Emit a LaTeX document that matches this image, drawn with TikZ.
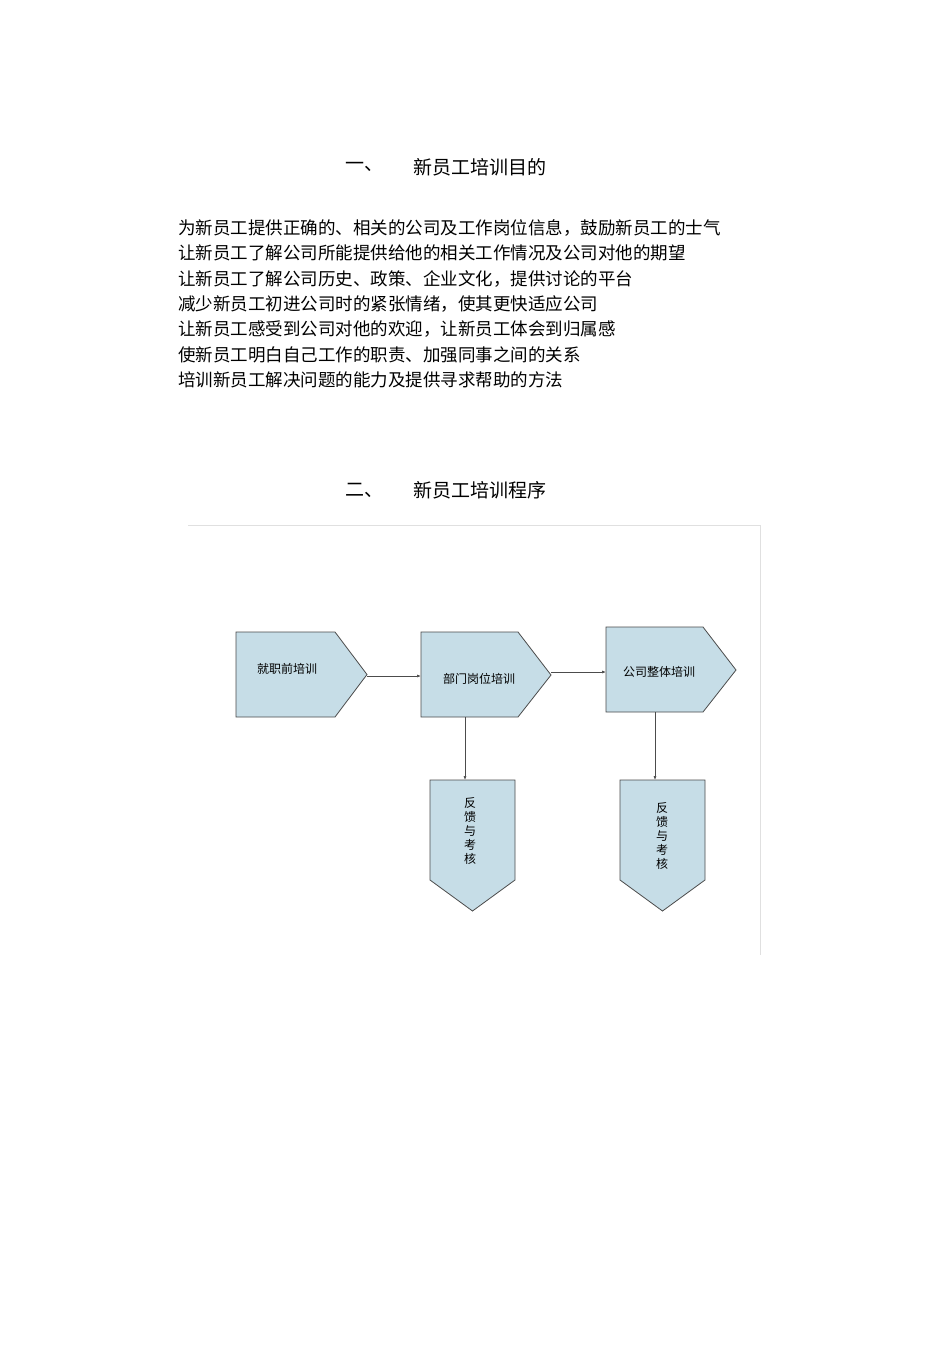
\documentclass[tikz,border=0pt]{standalone}
\usepackage{fontspec}
\newfontfamily\cjk{Noto Sans CJK SC}
\begin{document}
\begin{tikzpicture}[x=1pt,y=-1pt,
  shp/.style={draw=black!70,fill=cyan!20!teal!25!white,line width=0.8pt},
  lbl/.style={font=\cjk\fontsize{12}{14}\selectfont,inner sep=0pt},
  body/.style={font=\cjk\fontsize{17.5}{20}\selectfont,anchor=west,inner sep=0pt},
  head/.style={font=\cjk\fontsize{19}{22}\selectfont,anchor=west,inner sep=0pt},
  arr/.style={draw=black!70,line width=0.7pt,-{Latex[length=4pt,width=3pt]}}]
\usetikzlibrary{arrows.meta}
\useasboundingbox (0,0) rectangle (950,1345);
\fill[white] (0,0) rectangle (950,1345);
\node[head] (h1a) at (345,167) {一、};
\node[head] (h1b) at (413,167) {新员工培训目的};
\foreach \t [count=\i] in {为新员工提供正确的、相关的公司及工作岗位信息，鼓励新员工的士气,
 让新员工了解公司所能提供给他的相关工作情况及公司对他的期望,
 让新员工了解公司历史、政策、企业文化，提供讨论的平台,
 减少新员工初进公司时的紧张情绪，使其更快适应公司,
 让新员工感受到公司对他的欢迎，让新员工体会到归属感,
 使新员工明白自己工作的职责、加强同事之间的关系,
 培训新员工解决问题的能力及提供寻求帮助的方法}
 \node[body] (b\i) at (178,{228+25.3*(\i-1)}) {\t};
\node[head] (h2a) at (345,490) {二、};
\node[head] (h2b) at (413,490) {新员工培训程序};
\draw[black!12,line width=0.8pt] (188,525) -- (760,525) -- (760,955);
% boxes
\draw[shp] (236,632) -- (335,632) -- (367,674.5) -- (335,717) -- (236,717) -- cycle;
\node[lbl] (n1) at (287,669) {就职前培训};
\draw[shp] (421,632) -- (518,632) -- (551,675) -- (518,717) -- (421,717) -- cycle;
\node[lbl] (n2) at (479,679) {部门岗位培训};
\draw[shp] (606,627) -- (703,627) -- (736,670) -- (703,712) -- (606,712) -- cycle;
\node[lbl] (n3) at (659,672) {公司整体培训};
\draw[shp] (430,780) -- (515,780) -- (515,880) -- (472.5,911) -- (430,880) -- cycle;
\node[lbl,align=center] (n4) at (470,831) {反\\馈\\与\\考\\核};
\draw[shp] (620,780) -- (705,780) -- (705,880) -- (662.5,911) -- (620,880) -- cycle;
\node[lbl,align=center] (n5) at (662,836) {反\\馈\\与\\考\\核};
\coordinate (a1) at (367,676); \coordinate (a2) at (421,676);
\coordinate (c1) at (551,672); \coordinate (c2) at (606,672);
\coordinate (d1) at (465,717); \coordinate (d2) at (465,780);
\coordinate (e1) at (655,712); \coordinate (e2) at (655,780);
\draw[arr] (a1) -- (a2);
\draw[arr] (c1) -- (c2);
\draw[arr] (d1) -- (d2);
\draw[arr] (e1) -- (e2);
\end{tikzpicture}
\end{document}
